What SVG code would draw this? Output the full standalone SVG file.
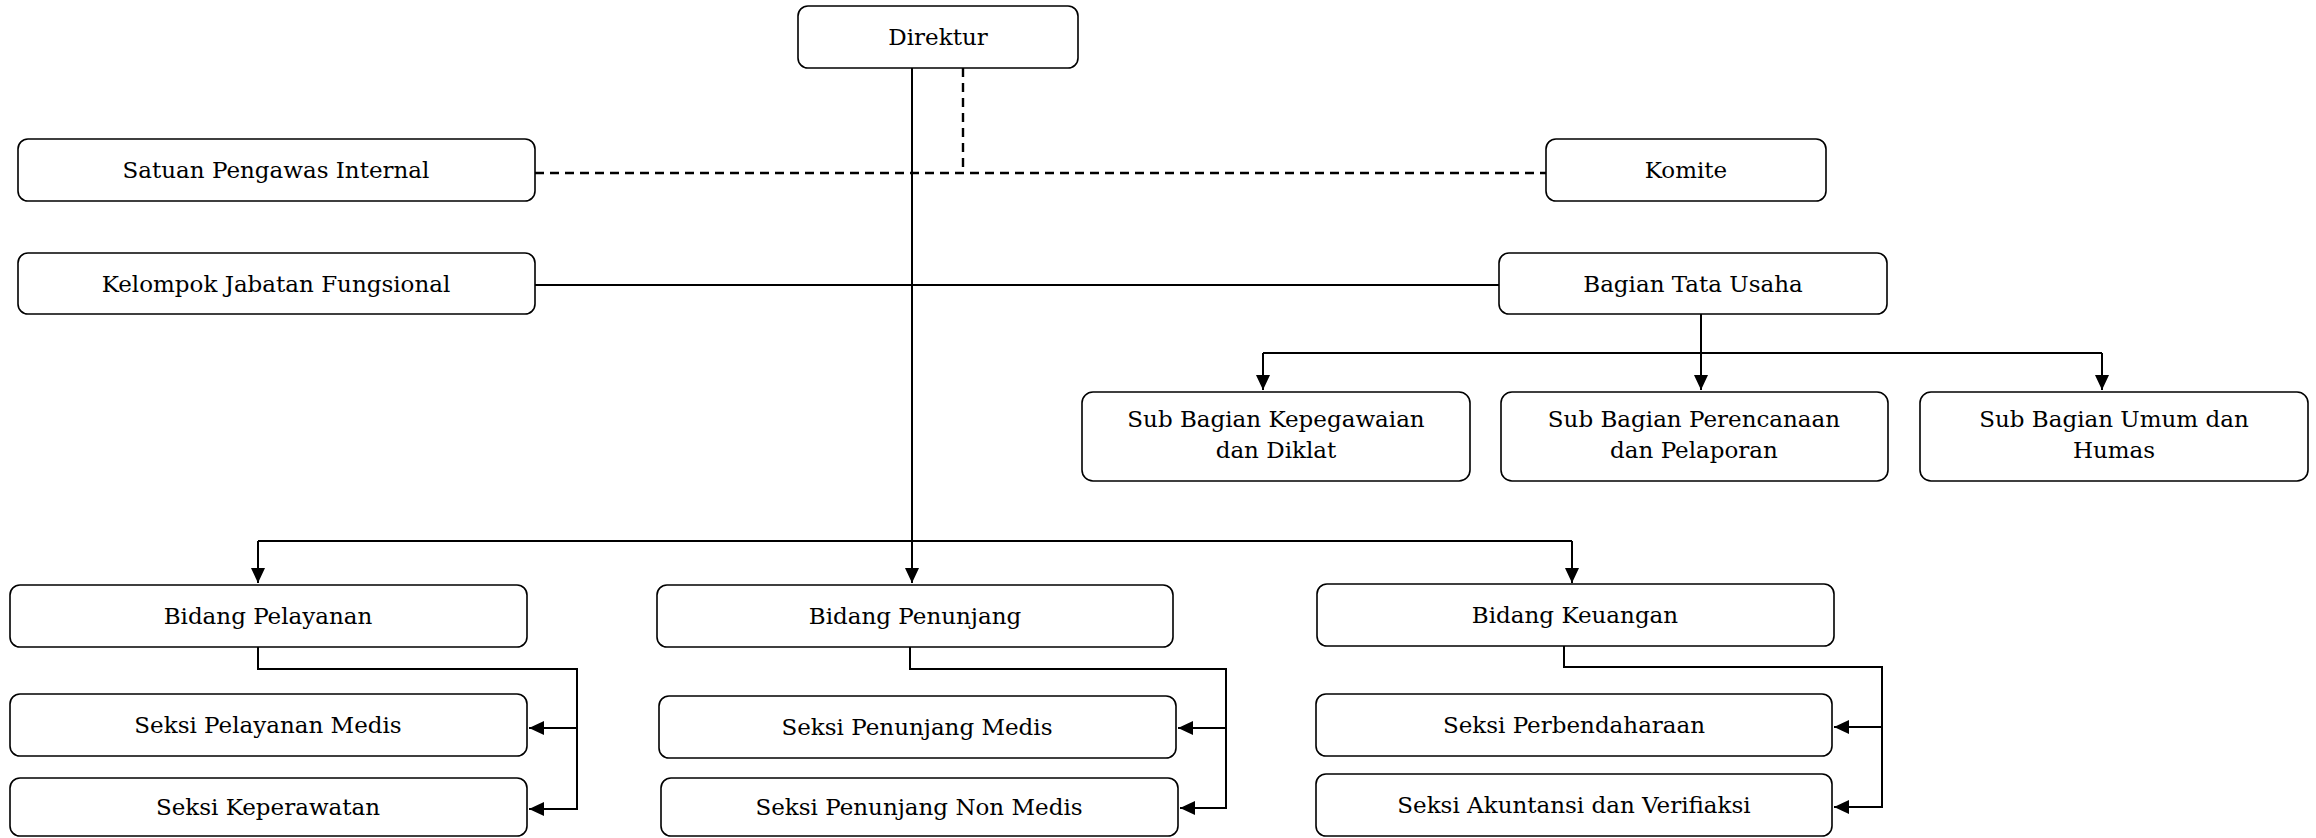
<svg xmlns="http://www.w3.org/2000/svg" width="2316" height="838" viewBox="0 0 2316 838">
<style>
.box{fill:#fff;stroke:#000;stroke-width:1.6}
.t{font-family:"DejaVu Serif","Liberation Serif",serif;font-size:23px;fill:#000;text-anchor:middle}
.ln{fill:none;stroke:#000;stroke-width:2}
.ds{fill:none;stroke:#000;stroke-width:2.4;stroke-dasharray:9 6}
</style>
<defs>
<marker id="ah" markerUnits="userSpaceOnUse" markerWidth="16" markerHeight="14" refX="15" refY="7" orient="auto">
<path d="M0,0 L15,7 L0,14 z" fill="#000"/>
</marker>
</defs>
<rect width="2316" height="838" fill="#fff"/>
<g id="connectors">
<path class="ds" d="M963,68 V173"/>
<path class="ds" d="M535,173 H1546"/>
<path class="ln" d="M912,68 V583" marker-end="url(#ah)"/>
<path class="ln" d="M535,285 H1499"/>
<path class="ln" d="M258,541 H1572"/>
<path class="ln" d="M258,541 V583" marker-end="url(#ah)"/>
<path class="ln" d="M1572,541 V583" marker-end="url(#ah)"/>
<path class="ln" d="M1701,314 V390" marker-end="url(#ah)"/>
<path class="ln" d="M1263,353 H2102"/>
<path class="ln" d="M1263,353 V390" marker-end="url(#ah)"/>
<path class="ln" d="M2102,353 V390" marker-end="url(#ah)"/>
<path class="ln" d="M258,647 V669 H577 V809 H529" marker-end="url(#ah)"/>
<path class="ln" d="M577,728 H529" marker-end="url(#ah)"/>
<path class="ln" d="M910,647 V669 H1226 V808 H1180" marker-end="url(#ah)"/>
<path class="ln" d="M1226,728 H1178" marker-end="url(#ah)"/>
<path class="ln" d="M1564,646 V667 H1882 V807 H1834" marker-end="url(#ah)"/>
<path class="ln" d="M1882,727 H1834" marker-end="url(#ah)"/>
</g>
<g id="direktur"><rect class="box" x="798" y="6" width="280" height="62" rx="10"/><text class="t" x="938" y="45">Direktur</text></g>
<g id="spi"><rect class="box" x="18" y="139" width="517" height="62" rx="10"/><text class="t" x="276" y="178">Satuan Pengawas Internal</text></g>
<g id="komite"><rect class="box" x="1546" y="139" width="280" height="62" rx="10"/><text class="t" x="1686" y="178">Komite</text></g>
<g id="kjf"><rect class="box" x="18" y="253" width="517" height="61" rx="10"/><text class="t" x="276" y="292">Kelompok Jabatan Fungsional</text></g>
<g id="btu"><rect class="box" x="1499" y="253" width="388" height="61" rx="10"/><text class="t" x="1693" y="292">Bagian Tata Usaha</text></g>
<g id="sb1"><rect class="box" x="1082" y="392" width="388" height="89" rx="11"/><text class="t" x="1276" y="427">Sub Bagian Kepegawaian</text><text class="t" x="1276" y="458">dan Diklat</text></g>
<g id="sb2"><rect class="box" x="1501" y="392" width="387" height="89" rx="11"/><text class="t" x="1694" y="427">Sub Bagian Perencanaan</text><text class="t" x="1694" y="458">dan Pelaporan</text></g>
<g id="sb3"><rect class="box" x="1920" y="392" width="388" height="89" rx="11"/><text class="t" x="2114" y="427">Sub Bagian Umum dan</text><text class="t" x="2114" y="458">Humas</text></g>
<g id="bpel"><rect class="box" x="10" y="585" width="517" height="62" rx="10"/><text class="t" x="268" y="624">Bidang Pelayanan</text></g>
<g id="bpen"><rect class="box" x="657" y="585" width="516" height="62" rx="10"/><text class="t" x="915" y="624">Bidang Penunjang</text></g>
<g id="bkeu"><rect class="box" x="1317" y="584" width="517" height="62" rx="10"/><text class="t" x="1575" y="623">Bidang Keuangan</text></g>
<g id="spm"><rect class="box" x="10" y="694" width="517" height="62" rx="10"/><text class="t" x="268" y="733">Seksi Pelayanan Medis</text></g>
<g id="skep"><rect class="box" x="10" y="778" width="517" height="58" rx="10"/><text class="t" x="268" y="815">Seksi Keperawatan</text></g>
<g id="spnm"><rect class="box" x="659" y="696" width="517" height="62" rx="10"/><text class="t" x="917" y="735">Seksi Penunjang Medis</text></g>
<g id="spnn"><rect class="box" x="661" y="778" width="517" height="58" rx="10"/><text class="t" x="919" y="815">Seksi Penunjang Non Medis</text></g>
<g id="sper"><rect class="box" x="1316" y="694" width="516" height="62" rx="10"/><text class="t" x="1574" y="733">Seksi Perbendaharaan</text></g>
<g id="sakv"><rect class="box" x="1316" y="774" width="516" height="62" rx="10"/><text class="t" x="1574" y="813">Seksi Akuntansi dan Verifiaksi</text></g>
</svg>
